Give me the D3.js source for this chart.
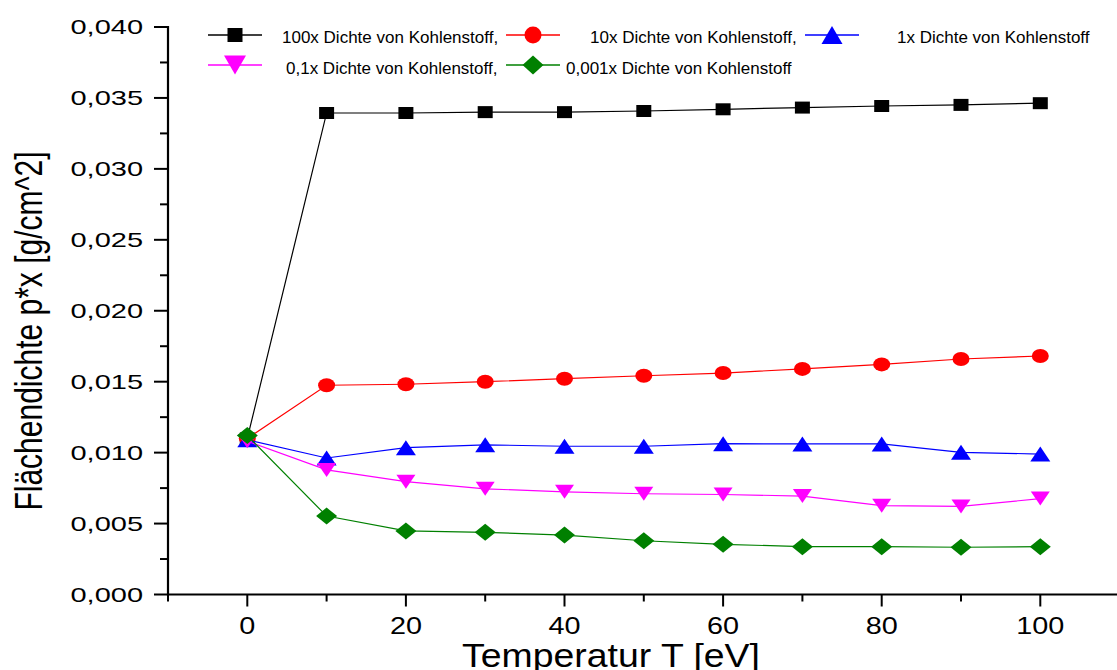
<!DOCTYPE html>
<html>
<head>
<meta charset="utf-8">
<script src="https://cdn.jsdelivr.net/npm/d3@7"></script>
<style>
  html, body { margin: 0; padding: 0; background: #fff; }
  svg { display: block; }
  text { font-family: "Liberation Sans", Arial, sans-serif; fill: #000; }
</style>
</head>
<body>
<svg id="chart" width="1117" height="670"></svg>
<script>
// ---- data ----
const temperatures = [0, 10, 20, 30, 40, 50, 60, 70, 80, 90, 100];
const dens100x  = [0.0110, 0.03394, 0.03394, 0.03400, 0.03400, 0.03408, 0.03420, 0.03432, 0.03443, 0.03451, 0.03463];
const dens10x   = [0.0110, 0.01475, 0.01482, 0.01500, 0.01521, 0.01542, 0.01561, 0.01590, 0.01622, 0.01660, 0.01681];
const dens1x    = [0.0109, 0.00962, 0.01035, 0.01055, 0.01045, 0.01045, 0.01063, 0.01061, 0.01061, 0.01002, 0.00990];
const dens01x   = [0.0108, 0.00878, 0.00795, 0.00745, 0.00724, 0.00710, 0.00705, 0.00694, 0.00626, 0.00621, 0.00676];
const dens0001x = [0.0112, 0.00553, 0.00448, 0.00438, 0.00419, 0.00379, 0.00354, 0.00337, 0.00337, 0.00333, 0.00337];
const seriesNames = [
  "100x Dichte von Kohlenstoff,",
  "10x Dichte von Kohlenstoff,",
  "1x Dichte von Kohlenstoff",
  "0,1x Dichte von Kohlenstoff,",
  "0,001x Dichte von Kohlenstoff"
];
const yTickValues = [0, 0.005, 0.010, 0.015, 0.020, 0.025, 0.030, 0.035, 0.040];
const yTickLabels = ["0,000", "0,005", "0,010", "0,015", "0,020", "0,025", "0,030", "0,035", "0,040"];
const xTickValues = [0, 20, 40, 60, 80, 100];
const xTickLabels = ["0", "20", "40", "60", "80", "100"];
const xTitle = "Temperatur T [eV]";
const yTitle = "Flächendichte p*x [g/cm^2]";

// ---- styles ----
const colors = ["#000000", "#ff0000", "#0000ff", "#ff00ff", "#008000"];
const shapes = ["square", "circle", "triangleUp", "triangleDown", "diamond"];

const svg = d3.select("#chart");
const x = d3.scaleLinear().domain([-10, 110]).range([168, 1119.6]);
const y = d3.scaleLinear().domain([0, 0.04]).range([594.5, 27]);

function markerPath(shape, w, h) {
  const hw = w / 2, hh = h / 2;
  switch (shape) {
    case "square": return `M${-hw},${-hh}H${hw}V${hh}H${-hw}Z`;
    case "triangleUp": return `M0,${-hh}L${hw},${hh}L${-hw},${hh}Z`;
    case "triangleDown": return `M0,${hh}L${hw},${-hh}L${-hw},${-hh}Z`;
    case "diamond": return `M0,${-hh}L${hw},0L0,${hh}L${-hw},0Z`;
  }
  return null;
}
const plotSizes = {
  square: [15, 12], circle: [17, 14], triangleUp: [20, 15],
  triangleDown: [19, 14], diamond: [21, 17]
};
const legendSizes = {
  square: [15, 14], circle: [17, 17], triangleUp: [21, 18],
  triangleDown: [22, 19], diamond: [21, 19]
};
function drawMarker(g, shape, cx, cy, color, sizes) {
  const [w, h] = sizes[shape];
  if (shape === "circle") {
    g.append("ellipse").attr("cx", cx).attr("cy", cy).attr("rx", w / 2).attr("ry", h / 2).attr("fill", color);
  } else {
    g.append("path").attr("d", markerPath(shape, w, h))
      .attr("transform", `translate(${cx},${cy})`).attr("fill", color);
  }
}

// ---- axes ----
const axisG = svg.append("g");
// y axis line
axisG.append("line").attr("x1", 168).attr("x2", 168).attr("y1", y(0.04) - 1).attr("y2", y(0) + 1)
  .attr("stroke", "#000").attr("stroke-width", 2.2);
// x axis line
axisG.append("line").attr("x1", 167).attr("x2", 1117).attr("y1", y(0)).attr("y2", y(0))
  .attr("stroke", "#000").attr("stroke-width", 2.2);

// y ticks
const yMinor = d3.range(0.0025, 0.04, 0.005);
yTickValues.forEach(v => {
  axisG.append("line").attr("x1", 154).attr("x2", 168).attr("y1", y(v)).attr("y2", y(v))
    .attr("stroke", "#000").attr("stroke-width", 2);
});
yMinor.forEach(v => {
  axisG.append("line").attr("x1", 160).attr("x2", 168).attr("y1", y(v)).attr("y2", y(v))
    .attr("stroke", "#000").attr("stroke-width", 2);
});
yTickValues.forEach((v, i) => {
  axisG.append("text")
    .attr("transform", `translate(143,${y(v) + 7}) scale(1.38,1)`)
    .attr("text-anchor", "end").attr("font-size", 21)
    .text(yTickLabels[i]);
});

// x ticks
const xMinor = d3.range(-10, 111, 20);
xTickValues.forEach(v => {
  axisG.append("line").attr("x1", x(v)).attr("x2", x(v)).attr("y1", y(0)).attr("y2", y(0) + 12)
    .attr("stroke", "#000").attr("stroke-width", 2);
});
xMinor.forEach(v => {
  axisG.append("line").attr("x1", x(v)).attr("x2", x(v)).attr("y1", y(0)).attr("y2", y(0) + 7)
    .attr("stroke", "#000").attr("stroke-width", 2);
});
xTickValues.forEach((v, i) => {
  axisG.append("text")
    .attr("transform", `translate(${x(v)},634) scale(1.2,1)`)
    .attr("text-anchor", "middle").attr("font-size", 24)
    .text(xTickLabels[i]);
});

// titles
svg.append("text")
  .attr("transform", "translate(611,667) scale(1.1,1)")
  .attr("text-anchor", "middle").attr("font-size", 34)
  .text(xTitle);
svg.append("text")
  .attr("transform", "translate(42,331) scale(1.3,1) rotate(-90)")
  .attr("text-anchor", "middle").attr("font-size", 30)
  .text(yTitle);

// ---- series ----
const allSeries = [dens100x, dens10x, dens1x, dens01x, dens0001x];
const line = d3.line().x(d => x(d[0])).y(d => y(d[1]));
const plotG = svg.append("g");
allSeries.forEach((vals, si) => {
  const pts = temperatures.map((t, i) => [t, vals[i]]);
  plotG.append("path").attr("d", line(pts)).attr("fill", "none")
    .attr("stroke", colors[si]).attr("stroke-width", 1.2);
  pts.forEach(p => drawMarker(plotG, shapes[si], x(p[0]), y(p[1]), colors[si], plotSizes));
});

// ---- legend ----
const legendItems = [
  { lx: 208, my: 35, tx: 282, ty: 42.5 },
  { lx: 506, my: 35, tx: 590, ty: 42.5 },
  { lx: 805, my: 35, tx: 897, ty: 42.5 },
  { lx: 208, my: 65, tx: 286, ty: 74 },
  { lx: 506, my: 65, tx: 566, ty: 74 }
];
const legG = svg.append("g");
legendItems.forEach((it, si) => {
  legG.append("line").attr("x1", it.lx).attr("x2", it.lx + 54).attr("y1", it.my).attr("y2", it.my)
    .attr("stroke", colors[si]).attr("stroke-width", 1.6);
  drawMarker(legG, shapes[si], it.lx + 27, it.my, colors[si], legendSizes);
  legG.append("text").attr("x", it.tx).attr("y", it.ty).attr("font-size", 17)
    .text(seriesNames[si]);
});
</script>
</body>
</html>
